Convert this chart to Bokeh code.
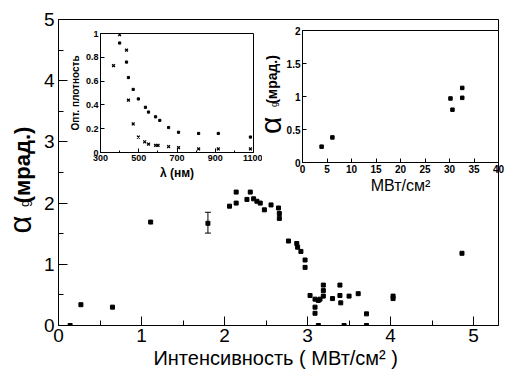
import numpy as np
from bokeh.plotting import figure
from bokeh.models import GridBox, Label, Whisker, ColumnDataSource, FixedTicker, TeeHead
from bokeh.embed import file_html
from bokeh.resources import INLINE

# ---------------- data ----------------
# main plot: intensity (MW/cm^2) vs alpha_g (mrad)
intensity = [0.14, 0.27, 0.65, 1.11, 1.80,
             2.06, 2.14, 2.14, 2.27, 2.31, 2.35, 2.39, 2.43, 2.48, 2.56, 2.65, 2.66, 2.66,
             2.77, 2.87, 2.88, 2.92, 2.97, 2.97,
             3.03, 3.09, 3.13, 3.15, 3.19, 3.19, 3.19, 3.09, 3.09, 3.30, 3.39, 3.39, 3.40,
             3.50, 3.61, 3.71, 4.03, 4.03, 3.13, 3.44, 3.71, 4.86]
alpha = [0.00, 0.34, 0.30, 1.69, 1.67,
         1.95, 2.00, 2.18, 2.06, 2.18, 2.07, 2.03, 2.00, 1.89, 1.97, 1.92, 1.83, 1.75,
         1.38, 1.34, 1.28, 1.21, 1.07, 0.95,
         0.49, 0.43, 0.41, 0.43, 0.66, 0.57, 0.48, 0.30, 0.20, 0.44, 0.66, 0.49, 0.37,
         0.48, 0.52, 0.19, 0.48, 0.44, 0.00, 0.00, 0.00, 1.18]
err_x = [1.80]
err_lo = [1.51]
err_hi = [1.85]

# inset 1: optical density vs wavelength
lam_x = [368, 400, 436, 446, 471, 498, 531, 551, 588, 601, 656, 708, 813, 916, 1084]
od_x = [0.73, 0.99, 0.86, 0.44, 0.24, 0.13, 0.09, 0.07, 0.06, 0.06, 0.05, 0.04, 0.03, 0.03, 0.03]
lam_d = [400, 436, 446, 471, 498, 535, 551, 588, 610, 656, 708, 813, 916, 1084]
od_d = [0.92, 0.76, 0.63, 0.53, 0.45, 0.38, 0.34, 0.30, 0.27, 0.21, 0.17, 0.16, 0.16, 0.13]

# inset 2: alpha_g vs intensity
int2 = [3.9, 6.1, 30.2, 30.6, 32.6, 32.6]
alpha2 = [0.24, 0.38, 0.97, 0.80, 1.13, 0.98]

main_xticks = [0, 1, 2, 3, 4, 5]
main_yticks = [0, 1, 2, 3, 4, 5]
ins1_xticks = [300, 500, 700, 900, 1100]
ins1_yticks = [0, 0.2, 0.4, 0.6, 0.8, 1]
ins1_ylabels = {0: "0", 0.2: "0.2", 0.4: "0.4", 0.6: "0.6", 0.8: "0.8", 1: "1"}
ins2_xticks = [0, 5, 10, 15, 20, 25, 30, 35, 40]
ins2_yticks = [0, 0.5, 1, 1.5, 2]

FONT = "Liberation Sans"


def style_axes(p, tick_size, in_major, in_minor):
    for ax in (p.xaxis[0], p.yaxis[0]):
        ax.major_tick_in = in_major
        ax.major_tick_out = 0
        ax.minor_tick_in = in_minor
        ax.minor_tick_out = 0
        ax.axis_line_color = "black"
        ax.major_tick_line_color = "black"
        ax.minor_tick_line_color = "black"
        ax.major_label_text_font = FONT
        ax.major_label_text_font_size = tick_size
        ax.major_label_text_color = "black"
        ax.axis_label_text_font = FONT
        ax.axis_label_text_font_style = "normal"
        ax.axis_label_text_color = "black"
    p.xgrid.visible = False
    p.ygrid.visible = False
    p.outline_line_color = "black"
    p.outline_line_width = 1


def vlabel(p, x, y, text, size, style="normal"):
    p.add_layout(Label(x=x, y=y, text=text, angle=np.pi / 2, text_align="center",
                       text_baseline="middle", text_font=FONT, text_font_size=size,
                       text_font_style=style, text_color="black"))


# ---------------- main figure ----------------
main = figure(width=499, height=368, x_range=(0, 5.3), y_range=(0, 5),
              output_backend="svg", toolbar_location=None,
              min_border_left=50, min_border_right=1, min_border_top=11, min_border_bottom=51)
style_axes(main, "19px", 9, 5)
main.xaxis.ticker = FixedTicker(ticks=main_xticks, minor_ticks=[0.5, 1.5, 2.5, 3.5, 4.5])
main.yaxis.ticker = FixedTicker(ticks=main_yticks, minor_ticks=[0.5, 1.5, 2.5, 3.5, 4.5])
main.xaxis.major_label_standoff = 3
main.yaxis.major_label_standoff = 4
main.xaxis.axis_label = "Интенсивность  ( МВт/см² )"
main.xaxis.axis_label_text_font_size = "20px"
main.xaxis.axis_label_standoff = 2

main.scatter(intensity, alpha, marker="square", size=4, color="black")
src_err = ColumnDataSource(dict(x=err_x, lo=err_lo, hi=err_hi))
main.add_layout(Whisker(source=src_err, base="x", lower="lo", upper="hi",
                        line_color="black", line_width=1,
                        upper_head=TeeHead(size=6, line_color="black"),
                        lower_head=TeeHead(size=6, line_color="black")))

# y title of the right inset (drawn on the main canvas, shows through the inset border)
vlabel(main, 2.55, 3.27, "α", "30px")
vlabel(main, 2.60, 3.61, "g", "9px")
vlabel(main, 2.57, 4.02, "(мрад.)", "14px", "bold")

# ---------------- y title of the main plot (transparent overlay figure) ----------------
ttl = figure(width=66, height=347, x_range=(0, 1), y_range=(0, 1),
             output_backend="svg", toolbar_location=None,
             x_axis_type=None, y_axis_type=None,
             min_border_left=0, min_border_right=0, min_border_top=0, min_border_bottom=0)
ttl.xgrid.visible = False
ttl.ygrid.visible = False
ttl.outline_line_color = None
ttl.background_fill_alpha = 0
ttl.border_fill_alpha = 0
vlabel(ttl, 0.303, 0.346, "α", "31px")
vlabel(ttl, 0.36, 0.418, "g", "13px")
vlabel(ttl, 0.34, 0.550, "(мрад.)", "22px", "bold")

# ---------------- inset 1 ----------------
ins1 = figure(width=196, height=156, x_range=(300, 1100), y_range=(0, 1),
              output_backend="svg", toolbar_location=None,
              min_border_left=34, min_border_right=9, min_border_top=4, min_border_bottom=33)
style_axes(ins1, "9px", 4, 2)
ins1.border_fill_alpha = 0
ins1.xaxis.ticker = FixedTicker(ticks=ins1_xticks, minor_ticks=[400, 600, 800, 1000])
ins1.yaxis.ticker = FixedTicker(ticks=ins1_yticks, minor_ticks=[])
ins1.yaxis.major_label_overrides = ins1_ylabels
for ax in (ins1.xaxis[0], ins1.yaxis[0]):
    ax.major_label_text_font_style = "bold"
    ax.major_label_standoff = 2
    ax.axis_label_text_font_style = "bold"
ins1.xaxis.axis_label = "λ (нм)"
ins1.xaxis.axis_label_text_font_size = "12px"
ins1.xaxis.axis_label_standoff = 2
ins1.yaxis.axis_label = "Опт. плотность"
ins1.yaxis.axis_label_text_font_size = "10px"
ins1.yaxis.axis_label_standoff = 2
ins1.scatter(lam_x, od_x, marker="x", size=4, line_width=1.3, color="black")
ins1.scatter(lam_d, od_d, marker="square", size=2.2, color="black")

# ---------------- inset 2 ----------------
ins2 = figure(width=245, height=171, x_range=(0, 40), y_range=(0, 2),
              output_backend="svg", toolbar_location=None,
              min_border_left=40, min_border_right=9, min_border_top=5, min_border_bottom=32)
style_axes(ins2, "10px", 4, 2)
ins2.border_fill_alpha = 0
ins2.xaxis.ticker = FixedTicker(ticks=ins2_xticks, minor_ticks=[])
ins2.yaxis.ticker = FixedTicker(ticks=ins2_yticks, minor_ticks=[])
for ax in (ins2.xaxis[0], ins2.yaxis[0]):
    ax.major_label_text_font_style = "bold"
    ax.major_label_standoff = 2
ins2.xaxis.axis_label = "МВт/см²"
ins2.xaxis.axis_label_text_font_size = "16px"
ins2.xaxis.axis_label_standoff = 1
ins2.scatter(int2, alpha2, marker="square", size=3.5, color="black")

# ---------------- overlapping layout ----------------
grid = GridBox(children=[(main, 1, 1, 5, 3), (ins1, 3, 2, 1, 1), (ins2, 2, 3, 3, 1),
                         (ttl, 3, 0, 3, 2)],
               rows=["8px", "17px", "4px", "156px", "11px", "180px"],
               cols=["8px", "58px", "196px", "245px"])

open("out.html", "w").write(file_html(grid, INLINE))
